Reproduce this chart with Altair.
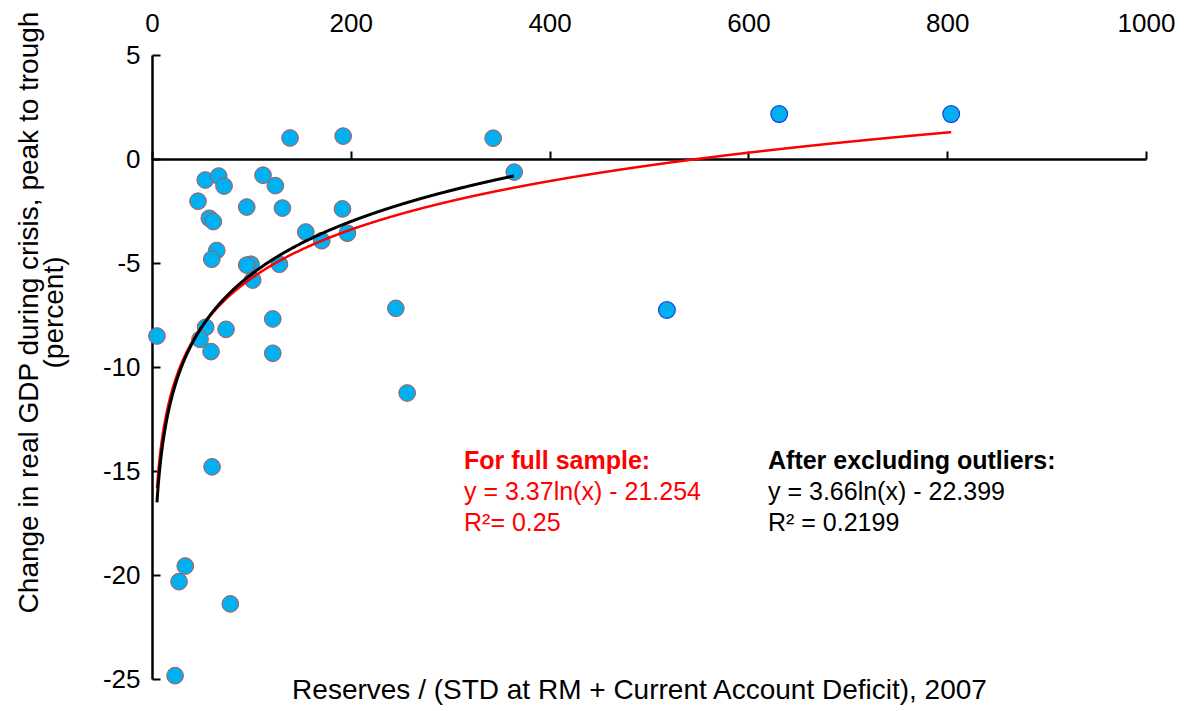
import altair as alt
import pandas as pd

# ---- data ----
reserves = [138.9, 192.3, 343.2, 364.4, 53.6, 67.1, 72.5, 46.3, 57.7, 61.7,
            111.7, 124.1, 95.3, 131.2, 191.6, 154.7, 170.8, 196.6, 65.1, 60.1,
            99.6, 95.3, 128.2, 101.3, 245.3, 121.5, 74.5, 54.0, 48.3, 5.0,
            59.4, 121.5, 256.7, 60.4, 33.5, 27.2, 78.8, 23.2]
gdp_change = [1.01, 1.10, 1.00, -0.63, -1.01, -0.82, -1.30, -2.03, -2.85, -3.01,
              -0.78, -1.28, -2.31, -2.36, -2.40, -3.51, -3.93, -3.57, -4.40, -4.82,
              -5.06, -5.10, -5.06, -5.82, -7.18, -7.69, -8.19, -8.09, -8.67, -8.51,
              -9.26, -9.34, -11.25, -14.80, -19.57, -20.32, -21.39, -24.84]
outlier_reserves = [518.0, 631.0, 804.0]
outlier_gdp = [-7.26, 2.16, 2.16]

x_ticks = [0, 200, 400, 600, 800, 1000]
y_ticks = [-25, -20, -15, -10, -5, 0, 5]

full_slope, full_icept = 3.37, -21.254
excl_slope, excl_icept = 3.66, -22.399

full_lines = ["For full sample:", "y = 3.37ln(x) - 21.254", "R\u00b2= 0.25"]
excl_lines = ["After excluding outliers:", "y = 3.66ln(x) - 22.399", "R\u00b2 = 0.2199"]

x_title = "Reserves / (STD at RM + Current Account Deficit), 2007"
y_title = ["Change in real GDP during crisis, peak to trough", "(percent)"]

# ---- layout ----
W, H = 994, 624
FONT = "Liberation Sans"
LBL = 26
TTL = 28
ANN = 25

core = pd.DataFrame({"x": reserves, "y": gdp_change})
outl = pd.DataFrame({"x": outlier_reserves, "y": outlier_gdp})

xs = alt.Scale(domain=[0, 1000], nice=False, zero=False)
ys = alt.Scale(domain=[-25, 5], nice=False, zero=False)

lab_x_axis = alt.Axis(orient="top", values=x_ticks, domain=False, ticks=False, tickSize=0,
                      labelPadding=24, labelBaseline="alphabetic", labelFlush=False,
                      labelExpr="'' + datum.value",
                      labelFontSize=LBL, labelFont=FONT, labelColor="black", grid=False, title=None)
lab_y_axis = alt.Axis(orient="left", values=y_ticks, domain=False, ticks=False, tickSize=0,
                      labelPadding=12, labelFlush=False, labelExpr="'' + datum.value",
                      labelFontSize=LBL, labelFont=FONT,
                      labelColor="black", grid=False, title=y_title, titleFont=FONT,
                      titleFontSize=TTL, titleFontWeight="normal", titleColor="black",
                      titleAngle=270, titleX=-123, titleY=257, titleAlign="center",
                      titleBaseline="middle", titleLineHeight=25)
frame_x_axis = alt.Axis(orient="top", offset=-104, values=x_ticks, labels=False, ticks=True,
                        tickSize=8, tickWidth=2, tickColor="black", domain=True,
                        domainColor="black", domainWidth=2.5, grid=False, title=None)
frame_y_axis = alt.Axis(orient="right", offset=-W, values=y_ticks, labels=False, ticks=True,
                        tickSize=8, tickWidth=2, tickColor="black", domain=True,
                        domainColor="black", domainWidth=2.5, grid=False, title=None)
title_x_axis = alt.Axis(orient="bottom", labels=False, ticks=False, domain=False, grid=False,
                        title=x_title, titleFont=FONT, titleFontSize=TTL, titleFontWeight="normal",
                        titleColor="black", titleX=487, titleY=19, titleAlign="center",
                        titleBaseline="alphabetic")

pts_core = alt.Chart(core).mark_circle(size=280, color="#00B0F0", stroke="#C0504D",
                                       strokeWidth=1, opacity=1).encode(
    x=alt.X("x:Q", scale=xs, axis=lab_x_axis),
    y=alt.Y("y:Q", scale=ys, axis=lab_y_axis))

pts_out = alt.Chart(outl).mark_circle(size=280, color="#00B0F0", stroke="#1A3CE0",
                                      strokeWidth=1.2, opacity=1).encode(
    x=alt.X("x:Q", scale=xs, axis=None),
    y=alt.Y("y:Q", scale=ys, axis=None))

xmin = min(reserves)
xmax_all = max(reserves + outlier_reserves)
xmax_core = max(reserves)

red = alt.Chart(alt.sequence(xmin, xmax_all + 0.01, 0.5, as_="x")).transform_calculate(
    y=f"{full_slope}*log(datum.x)+({full_icept})"
).mark_line(color="#FF0000", strokeWidth=2.5).encode(
    x=alt.X("x:Q", scale=xs, axis=frame_x_axis),
    y=alt.Y("y:Q", scale=ys, axis=frame_y_axis))

black = alt.Chart(alt.sequence(xmin, xmax_core + 0.01, 0.5, as_="x")).transform_calculate(
    y=f"{excl_slope}*log(datum.x)+({excl_icept})"
).mark_line(color="black", strokeWidth=3).encode(
    x=alt.X("x:Q", scale=xs, axis=title_x_axis),
    y=alt.Y("y:Q", scale=ys, axis=None))

def ann(line, px, py, color, bold):
    return alt.Chart(pd.DataFrame({"t": [line]})).mark_text(
        align="left", baseline="alphabetic", font=FONT, fontSize=ANN,
        fontWeight="bold" if bold else "normal", color=color
    ).encode(text="t:N", x=alt.value(px), y=alt.value(py))

texts = []
for i, line in enumerate(full_lines):
    texts.append(ann(line, 312, 414 + 31 * i, "#FF0000", i == 0))
for i, line in enumerate(excl_lines):
    texts.append(ann(line, 616, 414 + 31 * i, "black", i == 0))

chart = alt.layer(pts_core, pts_out, red, black, *texts).resolve_axis(
    x="independent", y="independent"
).properties(
    width=W, height=H,
    autosize=alt.AutoSizeParams(type="none"),
    padding={"left": 152, "top": 55, "right": 40, "bottom": 32},
    background="white"
).configure_view(stroke=None)

chart.save("out.html", embed_options={"renderer": "svg", "actions": False})
